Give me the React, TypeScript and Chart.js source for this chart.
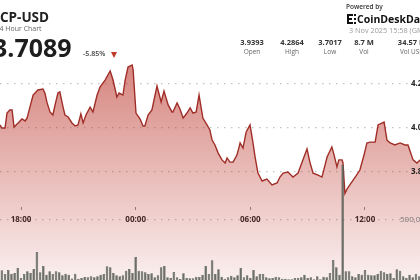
import React, { useEffect, useRef } from "react";
import { Chart, registerables } from "chart.js";

Chart.register(...registerables);

const SYMBOL = "ICP-USD";
const SUBTITLE = "24 Hour Chart";
const LAST_PRICE = "3.7089";
const CHANGE = "-5.85%";
const POWERED = "Powered by";
const BRAND = "CoinDeskData";
const TIMESTAMP = "3 Nov 2025 15:58 (GMT)";
const STAT_VALUES = ["3.9393", "4.2864", "3.7017", "8.7 M", "34.57 M"];
const STAT_LABELS = ["Open", "High", "Low", "Vol", "Vol USD"];

const PRICE_TIMES = [
  "15:58", "16:54", "17:00", "17:10", "17:16", "17:25", "17:32", "17:38", "17:51", "18:03",
  "18:13", "18:19", "18:28", "18:38", "18:53", "19:09", "19:15", "19:22", "19:31", "19:40",
  "19:47", "19:56", "20:02", "20:12", "20:18", "20:28", "20:40", "20:50", "20:59", "21:08",
  "21:15", "21:24", "21:37", "21:46", "21:59", "22:08", "22:24", "22:40", "22:49", "23:01",
  "23:08", "23:20", "23:27", "23:36", "23:49", "23:52", "00:01", "00:14", "00:23", "00:29",
  "00:39", "00:51", "01:01", "01:07", "01:20", "01:29", "01:42", "01:54", "01:57", "02:10",
  "02:19", "02:29", "02:41", "02:51", "03:00", "03:10", "03:19", "03:31", "03:44", "03:53",
  "04:00", "04:09", "04:19", "04:31", "04:41", "04:47", "04:56", "05:06", "05:18", "05:28",
  "05:37", "05:47", "05:59", "06:08", "06:15", "06:24", "06:37", "06:52", "07:08", "07:24",
  "07:33", "07:43", "07:58", "08:14", "08:30", "08:45", "08:58", "09:07", "09:17", "09:33",
  "09:45", "10:01", "10:16", "10:23", "10:32", "10:38", "10:48", "10:51", "10:57", "11:04",
  "11:19", "11:32", "11:44", "11:57", "12:06", "12:16", "12:32", "12:41", "13:00", "13:09",
  "13:19", "13:34", "13:50", "14:06", "14:15", "14:31", "14:43", "14:53", "15:58",
];
const PRICE_VALUES = [
  3.9393, 4.014, 4.0, 4.0, 4.068, 4.082, 4.082, 4.005, 4.023, 4.041,
  4.032, 4.045, 4.095, 4.15, 4.173, 4.177, 4.159, 4.114, 4.073, 4.059,
  4.105, 4.159, 4.164, 4.095, 4.059, 4.05, 4.023, 4.009, 4.014, 4.064,
  4.023, 4.059, 4.095, 4.073, 4.15, 4.186, 4.218, 4.259, 4.218, 4.141,
  4.159, 4.15, 4.218, 4.277, 4.2864, 4.264, 4.068, 4.041, 4.009, 4.009,
  4.059, 4.082, 4.15, 4.191, 4.118, 4.168, 4.105, 4.073, 4.073, 4.114,
  4.086, 4.045, 4.068, 4.091, 4.068, 4.073, 4.15, 4.045, 4.014, 3.991,
  3.945, 3.923, 3.886, 3.855, 3.841, 3.864, 3.845, 3.845, 3.877, 3.932,
  3.909, 3.982, 4.014, 3.936, 3.868, 3.795, 3.759, 3.768, 3.741, 3.75,
  3.777, 3.795, 3.8, 3.777, 3.795, 3.855, 3.905, 3.845, 3.795, 3.786,
  3.777, 3.868, 3.914, 3.877, 3.823, 3.855, 3.855, 3.841, 3.7017, 3.723,
  3.755, 3.782, 3.809, 3.877, 3.932, 3.936, 3.936, 4.014, 4.027, 3.945,
  3.932, 3.923, 3.932, 3.923, 3.923, 3.855, 3.841, 3.855, 3.7089,
];

const VOLUME_START = "17:00";
const VOLUME_STEP_MINUTES = 10;
const VOLUME_VALUES = [
  81000, 50000, 83000, 50000, 58000, 100000, 17000, 50000, 72000, 58000,
  92000, 233000, 64000, 117000, 44000, 72000, 50000, 72000, 64000, 39000,
  53000, 44000, 13000, 53000, 11000, 17000, 25000, 22000, 31000, 22000,
  31000, 44000, 50000, 114000, 106000, 58000, 39000, 31000, 39000, 78000,
  92000, 58000, 192000, 78000,
  72000, 64000, 50000, 56000, 22000, 39000, 106000, 117000, 22000, 17000,
  67000, 22000, 8000, 56000, 17000, 14000, 14000, 28000, 25000, 44000,
  117000, 50000, 164000, 50000, 89000, 28000, 11000, 22000, 36000, 22000,
  39000, 100000, 22000, 39000, 17000, 83000, 31000, 50000, 50000, 22000,
  14000, 17000, 28000, 22000,
  11000, 11000, 6000, 6000, 17000, 17000, 22000, 44000, 17000, 22000,
  6000, 31000, 6000, 28000, 22000, 58000, 167000, 106000, 44000,
  958000,
  72000, 72000, 31000, 22000, 50000, 44000, 83000, 44000, 39000, 39000,
  50000, 78000, 64000, 50000, 56000, 17000, 89000, 78000, 31000, 17000,
  44000, 22000, 50000, 31000,
];

const X_TICK_HOURS = [18, 24, 30, 36];
const X_TICK_LABELS = ["18:00", "00:00", "06:00", "12:00"];
const PRICE_TICKS = [3.8, 4.0, 4.2];
const VOLUME_TICKS = [500000];

const FONT = "'Open Sans', 'DejaVu Sans', sans-serif";

function parseHour(t: string): number {
  const [h, m] = t.split(":").map(Number);
  return h + m / 60;
}

function toTimeline(times: string[]): number[] {
  let offset = 0;
  let prev = -Infinity;
  return times.map((t) => {
    let v = parseHour(t) + offset;
    if (v < prev) {
      offset += 24;
      v += 24;
    }
    prev = v;
    return v;
  });
}

// Draws the mirrored (inside) labels of the two value axes from their own ticks.
const insideAxisLabels = {
  id: "insideAxisLabels",
  afterDraw(chart: any) {
    const ctx = chart.ctx;
    const conf = [
      { id: "y", x: 411, color: "#222", font: "bold 8px " + FONT },
      { id: "yv", x: 400, color: "#777", font: "8px " + FONT },
    ];
    ctx.save();
    ctx.textAlign = "left";
    ctx.textBaseline = "middle";
    for (const c of conf) {
      const s = chart.scales[c.id];
      if (!s) continue;
      ctx.font = c.font;
      ctx.fillStyle = c.color;
      for (const t of s.ticks) {
        ctx.fillText(String(t.label), c.x, s.getPixelForValue(t.value));
      }
    }
    ctx.restore();
  },
};

export default function App() {
  const canvasRef = useRef<HTMLCanvasElement | null>(null);

  useEffect(() => {
    const canvas = canvasRef.current;
    if (!canvas) return;
    Chart.defaults.font.family = FONT;

    const priceX = toTimeline(PRICE_TIMES);
    const priceData = PRICE_VALUES.map((v, i) => ({ x: priceX[i], y: v }));
    const volStart = parseHour(VOLUME_START);
    const volData = VOLUME_VALUES.map((v, i) => ({
      x: volStart + (i * VOLUME_STEP_MINUTES) / 60,
      y: v,
    }));

    const zeroPad = (s: any) => {
      s.width = s.isHorizontal() ? s.width : 0;
      s.paddingTop = 0;
      s.paddingBottom = 0;
      s.paddingLeft = 0;
      s.paddingRight = 0;
    };

    const chart = new Chart(canvas, {
      type: "line",
      plugins: [insideAxisLabels],
      data: {
        datasets: [
          {
            type: "bar",
            data: volData as any,
            yAxisID: "yv",
            backgroundColor: "#6a7067",
            borderColor: "#3c423a",
            borderWidth: 0.5,
            barPercentage: 0.8,
            categoryPercentage: 1,
            grouped: false,
            order: 0,
          } as any,
          {
            type: "line",
            data: priceData as any,
            yAxisID: "y",
            borderColor: "#a02e28",
            borderWidth: 1.4,
            pointRadius: 0,
            tension: 0,
            fill: "start",
            order: 1,
            backgroundColor: (ctx: any) => {
              const c = ctx.chart;
              const area = c.chartArea;
              if (!area) return "rgba(190,60,50,0.3)";
              const top = c.scales.y.getPixelForValue(4.2864);
              const g = c.ctx.createLinearGradient(0, top, 0, area.bottom);
              g.addColorStop(0, "rgba(190,60,50,0.62)");
              g.addColorStop(1, "rgba(190,60,50,0.08)");
              return g;
            },
          } as any,
        ],
      },
      options: {
        responsive: false,
        maintainAspectRatio: false,
        animation: false,
        layout: { padding: 0 },
        plugins: { legend: { display: false }, tooltip: { enabled: false } },
        scales: {
          x: {
            type: "linear",
            min: 16.901,
            max: 38.879,
            offset: false,
            position: { y: 3.6409 } as any,
            afterBuildTicks: (s: any) => {
              s.ticks = X_TICK_HOURS.map((v) => ({ value: v }));
            },
            afterFit: zeroPad,
            ticks: {
              autoSkip: false,
              maxRotation: 0,
              padding: 5,
              color: "#222",
              font: { family: FONT, size: 8, weight: "bold" },
              callback: (_v: any, i: number) => X_TICK_LABELS[i],
            },
            grid: {
              offset: false,
              drawOnChartArea: false,
              drawTicks: true,
              tickLength: 3,
              color: "#8a8a8a",
              lineWidth: 1,
            },
            border: { display: false },
          } as any,
          y: {
            type: "linear",
            position: "left",
            min: 3.3091,
            max: 4.5818,
            z: 1,
            afterBuildTicks: (s: any) => {
              s.ticks = PRICE_TICKS.map((v) => ({ value: v }));
            },
            afterFit: zeroPad,
            ticks: {
              display: false,
              callback: (v: any) => Number(v).toFixed(1),
            },
            grid: { drawTicks: false, color: "rgba(150,150,150,0.6)", lineWidth: 1.3 },
            border: { display: false, dash: [1.5, 5.5] },
          } as any,
          yv: {
            type: "linear",
            position: "left",
            min: 0,
            max: 2333333,
            z: 1,
            afterBuildTicks: (s: any) => {
              s.ticks = VOLUME_TICKS.map((v) => ({ value: v }));
            },
            afterFit: zeroPad,
            ticks: {
              display: false,
              callback: (v: any) => Number(v).toLocaleString("en-US"),
            },
            grid: { drawTicks: false, color: "rgba(150,150,150,0.6)", lineWidth: 1.3 },
            border: { display: false, dash: [1.5, 5.5] },
          } as any,
        },
      },
    });
    return () => chart.destroy();
  }, []);

  const abs = (o: React.CSSProperties): React.CSSProperties => ({
    position: "absolute",
    whiteSpace: "nowrap",
    lineHeight: 1,
    fontFamily: FONT,
    ...o,
  });

  const statCenters = [252, 292, 330, 364, 412];

  return (
    <div
      style={{
        position: "fixed",
        left: 0,
        top: 0,
        width: 420,
        height: 280,
        overflow: "hidden",
        background: "#fff",
      }}
    >
      <canvas
        ref={canvasRef}
        width={420}
        height={280}
        style={{ position: "absolute", left: 0, top: 0, width: 420, height: 280, display: "block" }}
      />
      <div style={abs({ left: -4.5, top: 11.3, fontSize: 13.5, fontWeight: 700, color: "#222" })}>{SYMBOL}</div>
      <div style={abs({ left: -4.5, top: 24.5, fontSize: 7, color: "#666" })}>{SUBTITLE}</div>
      <div style={abs({ left: -7, top: 35, fontSize: 25, fontWeight: 700, color: "#1e1e1e" })}>{LAST_PRICE}</div>
      <div style={abs({ left: 83, top: 50.3, fontSize: 7, fontWeight: 600, color: "#444" })}>{CHANGE}</div>
      <div
        style={{
          position: "absolute",
          left: 111,
          top: 52,
          width: 0,
          height: 0,
          borderLeft: "3.5px solid transparent",
          borderRight: "3.5px solid transparent",
          borderTop: "6px solid #c0392b",
        }}
      />
      <div style={abs({ left: 346, top: 3.7, fontSize: 6.5, fontWeight: 600, color: "#333" })}>{POWERED}</div>
      <svg style={{ position: "absolute", left: 347, top: 14 }} width="9" height="10" viewBox="0 0 9 10">
        <rect x="0" y="0" width="2" height="10" fill="#111" />
        <rect x="0" y="0" width="6" height="2" fill="#111" />
        <rect x="0" y="8" width="6" height="2" fill="#111" />
        <rect x="0" y="4" width="5" height="2" fill="#111" />
        <rect x="7" y="0" width="2" height="2" fill="#111" />
        <rect x="7" y="4" width="2" height="2" fill="#111" />
        <rect x="7" y="8" width="2" height="2" fill="#111" />
      </svg>
      <div style={abs({ left: 357, top: 13.7, fontSize: 10.5, fontWeight: 700, color: "#111" })}>{BRAND}</div>
      <div style={abs({ left: 349, top: 26.6, fontSize: 7.3, color: "#999" })}>{TIMESTAMP}</div>
      {STAT_VALUES.map((v, i) => (
        <div
          key={"v" + i}
          style={abs({
            left: statCenters[i] - 25,
            width: 50,
            textAlign: "center",
            top: 39.3,
            fontSize: 7.5,
            fontWeight: 700,
            color: "#333",
          })}
        >
          {v}
        </div>
      ))}
      {STAT_LABELS.map((l, i) => (
        <div
          key={"l" + i}
          style={abs({
            left: statCenters[i] - 25,
            width: 50,
            textAlign: "center",
            top: 49.2,
            fontSize: 6.5,
            color: "#666",
          })}
        >
          {l}
        </div>
      ))}
    </div>
  );
}
